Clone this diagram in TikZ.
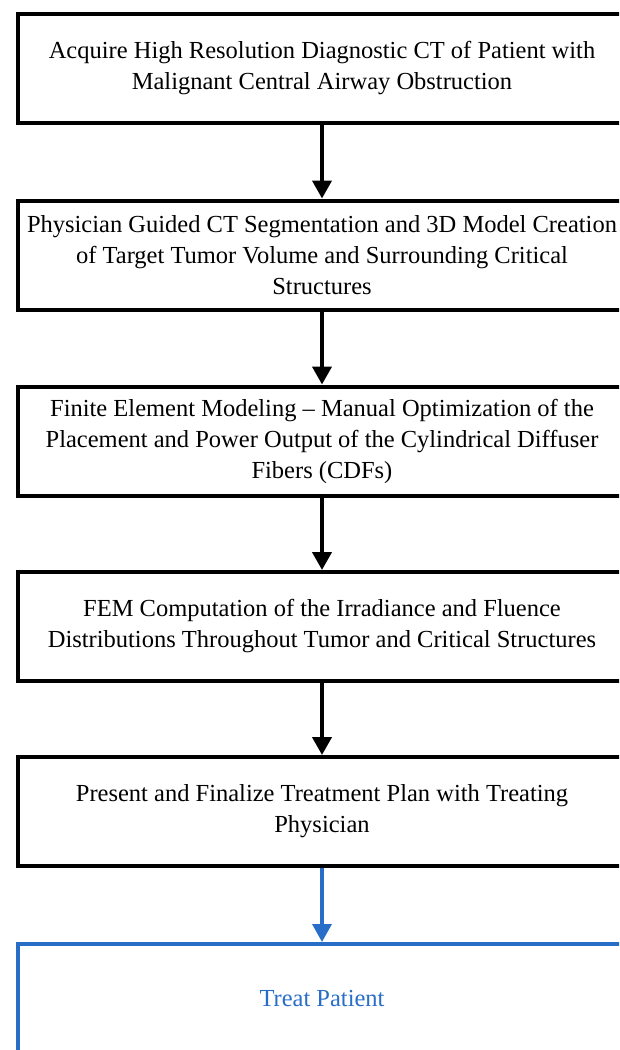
\documentclass[tikz,border=0pt]{standalone}
\usepackage{fontspec}
\setmainfont{Liberation Serif}
\usetikzlibrary{arrows.meta}
\definecolor{tblue}{RGB}{40,110,200}
\begin{document}
\begin{tikzpicture}[x=1pt,y=-1pt,
  stepbox/.style={draw, line width=4pt, minimum width=608pt, minimum height=109pt,
    align=center, inner sep=0pt, font=\fontsize{24.5}{31}\selectfont},
  flow/.style={line width=4pt, -{Triangle[length=18pt,width=19pt]}}]
\useasboundingbox (0,0) rectangle (619,1050);
\clip (0,0) rectangle (619,1050);
\node[stepbox] (b1) at (322,68.5) {Acquire High Resolution Diagnostic CT of Patient with\\Malignant Central Airway Obstruction};
\node[stepbox] (b2) at (322,255) {Physician Guided CT Segmentation and 3D Model Creation\\of Target Tumor Volume and Surrounding Critical\\Structures};
\node[stepbox] (b3) at (322,441) {Finite Element Modeling -- Manual Optimization of the\\Placement and Power Output of the Cylindrical Diffuser\\Fibers (CDFs)};
\node[stepbox] (b4) at (322,626.5) {FEM Computation of the Irradiance and Fluence\\Distributions Throughout Tumor and Critical Structures};
\node[stepbox] (b5) at (322,811.5) {Present and Finalize Treatment Plan with Treating\\Physician};
\node[stepbox, draw=tblue, text=tblue] (b6) at (322,998.5) {Treat Patient};
\draw[flow] (b1.south) -- (b2.north);
\draw[flow] (b2.south) -- (b3.north);
\draw[flow] (b3.south) -- (b4.north);
\draw[flow] (b4.south) -- (b5.north);
\draw[flow, line width=3.5pt, draw=tblue, fill=tblue] (b5.south) -- (b6.north);
\end{tikzpicture}
\end{document}
